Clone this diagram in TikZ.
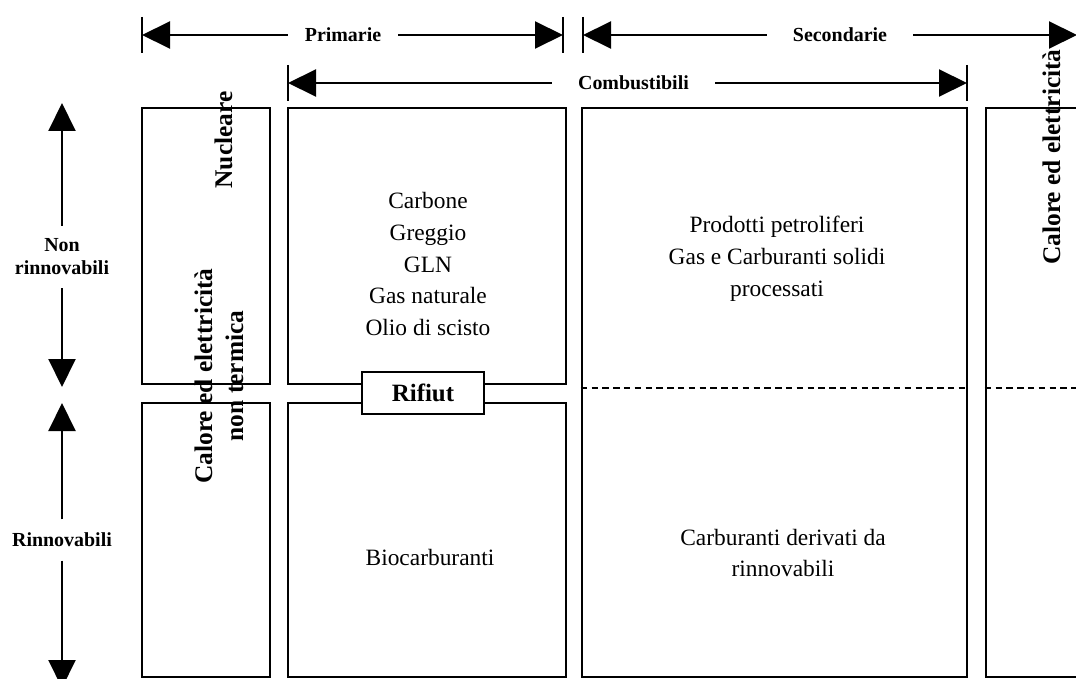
\documentclass[tikz,border=0pt]{standalone}
\usepackage{fontspec}
\setmainfont{Liberation Serif}
\usetikzlibrary{arrows.meta}
\begin{document}
\begin{tikzpicture}[x=1bp,y=-1bp,
  cell/.style 2 args={draw,line width=2.6bp,inner sep=0pt,minimum width=#1bp,minimum height=#2bp},
  divider/.style={line width=2.5bp,dash pattern=on 6.5bp off 4.3bp},
  dim/.style={line width=2bp,-{Triangle[length=28bp,width=27bp]}},
  tick/.style={line width=2.6bp},
  lbl/.style={font=\bfseries\fontsize{20}{23}\selectfont,align=center,inner sep=0pt},
  body/.style={font=\fontsize{23.5}{32}\selectfont,align=center,inner sep=0pt},
  vtxt/.style={font=\bfseries\fontsize{25.5}{31}\selectfont,rotate=90,anchor=base,inner sep=0pt}]
\useasboundingbox (0,0) rectangle (1076,679);

% cells of the classification table
\node[cell={128}{276}] (nucl)   at (206,246) {};
\node[cell={128}{274}] (ren)    at (206,540) {};
\node[cell={278}{276}] (fossil) at (427,246) {};
\node[cell={278}{274}] (bio)    at (427,540) {};
\node[cell={385}{569}] (sec)    at (774.5,392.5) {};
\node[cell={110}{569}] (heat)   at (1041,392.5) {};

% split between non-renewable and renewable rows
\coordinate (split) at (0,388);
\draw[divider] (sec.west |- split) -- (sec.east |- split);
\draw[divider] (heat.west |- split) -- (heat.east |- split);

% waste straddles both rows
\node[draw,fill=white,line width=2.6bp,minimum width=122bp,minimum height=42bp,inner sep=0pt,
      font=\bfseries\fontsize{25}{30}\selectfont] (waste) at (423,393) {Rifiut};

% cell contents
\node[body] (fosslist) at (428,264) {Carbone\\Greggio\\GLN\\Gas naturale\\Olio di scisto};
\node[body] (petro) at (777,258.5) {Prodotti petroliferi\\Gas e Carburanti solidi\\processati};
\node[body,anchor=base] (biotxt) at (430,565) {Biocarburanti};
\node[body] (renfuel) at (783,553) {Carburanti derivati da\\rinnovabili};

\node[vtxt] (nuctxt) at (232,140) {Nucleare};
\node[vtxt] (heat1) at (212,376) {Calore ed elettricità};
\node[vtxt] (heat2) at (243,376) {non termica};
\node[vtxt] (heattxt) at (1060,157) {Calore ed elettricità};

% horizontal range markers
\coordinate (pL) at (142,35);
\coordinate (pR) at (563,35);
\coordinate (sL) at (583,35);
\coordinate (sR) at (1077,35);
\coordinate (cL) at (288,83);
\coordinate (cR) at (967,83);

\node[lbl,minimum width=110bp,text height=13bp,text depth=0pt] (prim) at (343,35) {Primarie};
\node[lbl,minimum width=146bp,text height=13bp,text depth=0pt] (secl) at (840,35) {Secondarie};
\node[lbl,minimum width=163bp,text height=13bp,text depth=0pt] (comb) at (633.5,83) {Combustibili};

\draw[dim] (prim.west) -- (pL);
\draw[dim] (prim.east) -- (pR);
\draw[dim] (secl.west) -- (sL);
\draw[dim] (secl.east) -- (sR);
\draw[dim] (comb.west) -- (cL);
\draw[dim] (comb.east) -- (cR);

\draw[tick] (pL) ++(0,-18) -- ++(0,36);
\draw[tick] (pR) ++(0,-18) -- ++(0,36);
\draw[tick] (sL) ++(0,-18) -- ++(0,36);
\draw[tick] (cL) ++(0,-18) -- ++(0,36);
\draw[tick] (cR) ++(0,-18) -- ++(0,36);

% vertical range markers
\coordinate (nT) at (62,103);
\coordinate (nB) at (62,387);
\coordinate (rT) at (62,403);
\coordinate (rB) at (62,688);

\node[lbl,minimum height=62bp] (nonr) at (62,257) {Non\\rinnovabili};
\node[lbl,minimum height=41bp] (rinn) at (62,540) {Rinnovabili};

\draw[dim] (nonr.north) -- (nT);
\draw[dim] (nonr.south) -- (nB);
\draw[dim] (rinn.north) -- (rT);
\draw[dim] (rinn.south) -- (rB);
\end{tikzpicture}
\end{document}
